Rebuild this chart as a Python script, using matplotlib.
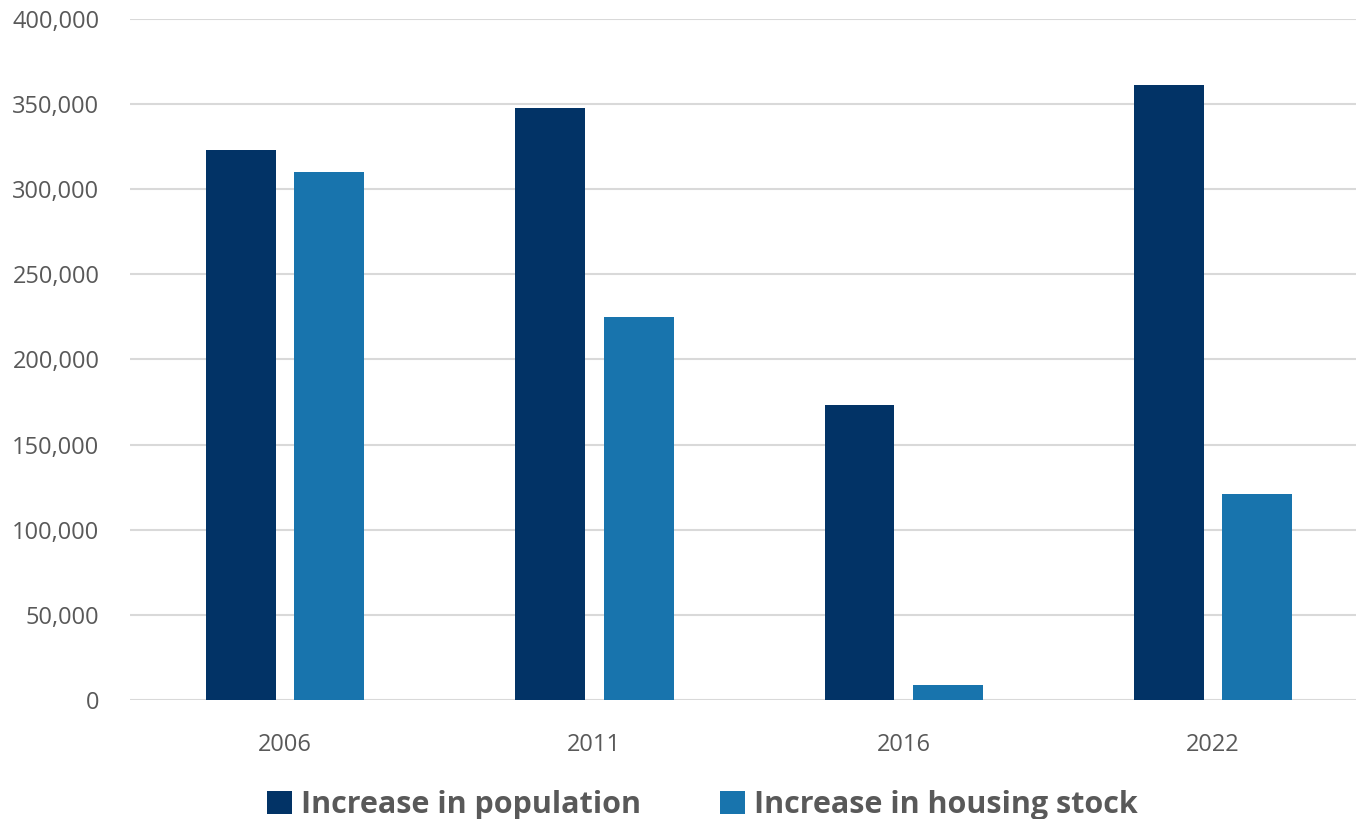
import matplotlib.pyplot as plt
import numpy as np
from matplotlib.ticker import FuncFormatter

years = ['2006', '2011', '2016', '2022']
population = [323000, 348000, 173000, 361000]
housing = [310000, 225000, 9000, 121000]

navy = '#023366'
blue = '#1874AD'
grey = '#595959'

plt.rcParams['font.family'] = ['Open Sans', 'DejaVu Sans']

fig = plt.figure(figsize=(13.56, 8.19), dpi=100)
ax = fig.add_axes([130 / 1356, 119 / 819, 1226 / 1356, 681 / 819])

x = np.arange(len(years))
w = 0.226
off = 0.143
ax.bar(x - off, population, w, color=navy, label='Increase in population', zorder=3)
ax.bar(x + off, housing, w, color=blue, label='Increase in housing stock', zorder=3)

ax.set_xlim(-0.501, 3.462)
ax.set_ylim(0, 400000)
ax.set_yticks(np.arange(0, 400001, 50000))
ax.yaxis.set_major_formatter(FuncFormatter(lambda v, p: f'{int(v):,}'))
ax.set_xticks(x)
ax.set_xticklabels(years)

ax.grid(axis='y', color='#d9d9d9', linewidth=1.5, zorder=0)
for s in ['top', 'right', 'left', 'bottom']:
    ax.spines[s].set_visible(False)
ax.tick_params(axis='both', length=0, labelsize=17, labelcolor=grey)
ax.tick_params(axis='y', pad=22)
ax.tick_params(axis='x', pad=24)

leg = fig.legend(loc='lower center', bbox_to_anchor=(0.518, -0.035), ncol=2, frameon=False,
                 prop={'weight': 'bold', 'size': 22}, handlelength=0.8, handleheight=0.8,
                 handletextpad=0.3, columnspacing=2.6)
for t in leg.get_texts():
    t.set_color(grey)

fig.savefig('out.png', dpi=100)
